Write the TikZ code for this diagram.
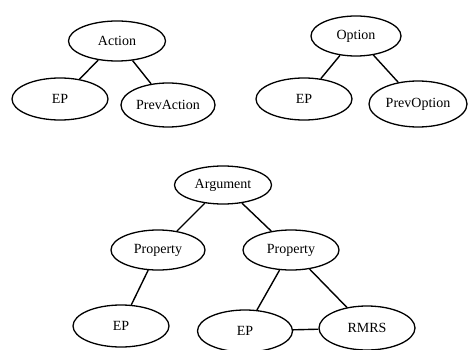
\documentclass[tikz,border=0pt]{standalone}
\usepackage{fontspec}
\setmainfont{Liberation Serif}
\usetikzlibrary{shapes.geometric}
\begin{document}
\begin{tikzpicture}[x=1pt,y=-1pt]
\tikzset{
  nd/.style={draw, ellipse, line width=1.3pt, inner sep=0pt, font=\fontsize{14}{16}\selectfont},
  conn/.style={line width=1.4pt}
}
\useasboundingbox (0,0) rectangle (468,350);
% top-left
\node[nd, minimum width=97pt, minimum height=40pt] (action) at (117,41) {Action};
\node[nd, minimum width=96pt, minimum height=42pt] (ep1) at (60,99) {\raisebox{-2pt}{EP}};
\node[nd, minimum width=94pt, minimum height=44pt] (prevaction) at (168,105) {\raisebox{-2pt}{PrevAction}};
% top-right
\node[nd, minimum width=90pt, minimum height=40pt] (option) at (356,36) {Option};
\node[nd, minimum width=96pt, minimum height=42pt] (ep2) at (304,99) {\raisebox{-2pt}{EP}};
\node[nd, minimum width=98pt, minimum height=46pt] (prevoption) at (418,104) {PrevOption};
% bottom
\node[nd, minimum width=97pt, minimum height=38pt] (argument) at (223,185) {Argument};
\node[nd, minimum width=94pt, minimum height=40pt] (propl) at (158,250) {Property};
\node[nd, minimum width=96pt, minimum height=40pt] (propr) at (291,250) {Property};
\node[nd, minimum width=96pt, minimum height=42pt] (ep3) at (121,326) {\raisebox{-2pt}{EP}};
\node[nd, minimum width=95pt, minimum height=42pt] (ep4) at (245,331) {\raisebox{-3pt}{EP}};
\node[nd, minimum width=96pt, minimum height=44pt] (rmrs) at (367,328) {RMRS};
% connectors
\draw[conn] (action) -- (ep1);
\draw[conn] (action) -- (prevaction);
\draw[conn] (option) -- (ep2);
\draw[conn] (option) -- (prevoption);
\draw[conn] (argument) -- (propl);
\draw[conn] (argument) -- (propr);
\draw[conn] (propl) -- (ep3);
\draw[conn] (propr) -- (ep4);
\draw[conn] (propr) -- (rmrs);
\draw[conn] (ep4) -- (rmrs);
\end{tikzpicture}
\end{document}
